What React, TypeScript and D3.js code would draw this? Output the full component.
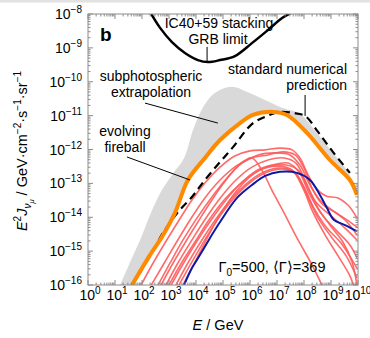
import React from 'react';
import * as d3 from 'd3';

// all series as [log10(E / GeV), log10(E^2 J / GeV cm^-2 s^-1 sr^-1)]
const xDecades = d3.range(0, 11);
const yDecades = d3.range(-16, -7);

const icStackingLimit = [
  [2.30, -7.94], [2.67, -8.41], [3.11, -8.83], [3.59, -9.15], [4.07, -9.36], [4.44, -9.42],
  [4.89, -9.36], [5.44, -9.24], [6.07, -8.86], [6.67, -8.47], [7.19, -8.12], [7.59, -7.94],
];

const standardPrediction = [
  [1.63, -16.0], [2.30, -15.14], [2.78, -14.46], [3.33, -13.85], [3.85, -13.40], [4.33, -12.90],
  [4.89, -12.37], [5.37, -11.93], [6.07, -11.25], [6.63, -11.01], [7.11, -10.89], [7.59, -10.92],
  [8.04, -11.01], [8.52, -11.48], [9.07, -12.07], [9.70, -12.69],
];

const evolvingFireball = [
  [1.63, -16.0], [2.30, -15.11], [2.74, -14.58], [3.22, -13.87], [3.70, -12.90], [4.33, -12.25],
  [4.89, -11.72], [5.63, -11.22], [6.11, -10.98], [6.85, -10.89], [7.37, -10.98], [8.11, -11.51],
  [8.96, -12.31], [9.70, -12.90], [9.96, -13.34],
];

// upper edge of the grey band, the lower edge is the evolving fireball curve
const subphotosphericUpper = [
  [1.19, -16.0], [1.56, -15.32], [1.93, -14.67], [2.30, -13.93], [2.70, -13.25], [3.11, -12.75],
  [3.56, -12.25], [3.89, -11.42], [4.26, -10.75], [4.70, -10.33], [5.33, -10.15], [5.81, -10.27],
  [6.56, -10.54], [7.19, -10.77], [7.85, -10.95], [8.48, -11.51], [9.07, -12.10], [9.59, -12.61],
  [9.96, -13.20],
];

const meanShell = [
  [3.56, -16.0], [3.85, -15.50], [4.15, -15.11], [4.52, -14.61], [4.89, -14.14], [5.52, -13.43],
  [6.07, -13.05], [6.56, -12.78], [7.11, -12.66], [7.74, -12.69], [8.22, -12.90], [8.59, -13.34],
  [8.85, -13.73], [9.11, -14.08], [9.52, -14.23], [9.96, -14.41],
];

const shellRuns = [
  [[1.93, -16.06], [2.37, -15.41], [2.85, -14.76], [3.33, -14.14], [3.85, -13.49], [4.33, -12.99], [4.89, -12.52], [5.44, -12.19], [6.00, -12.04], [6.56, -12.01], [7.11, -11.96], [7.56, -12.01], [7.85, -12.25], [8.15, -12.75], [8.44, -13.14], [8.81, -13.37], [9.26, -13.43], [9.63, -13.64], [9.96, -14.02]],
  [[2.56, -16.06], [3.04, -15.35], [3.52, -14.67], [4.04, -14.02], [4.59, -13.40], [5.15, -12.84], [5.70, -12.40], [6.30, -12.16], [6.93, -12.10], [7.48, -12.16], [7.85, -12.46], [8.22, -13.05], [8.59, -13.49], [9.04, -13.79], [9.52, -14.08], [9.96, -14.52]],
  [[2.85, -16.06], [3.33, -15.35], [3.85, -14.67], [4.37, -14.02], [4.93, -13.40], [5.48, -12.90], [6.07, -12.52], [6.67, -12.31], [7.26, -12.25], [7.70, -12.40], [8.07, -12.96], [8.44, -13.55], [8.96, -13.93], [9.52, -14.32], [9.96, -14.67]],
  [[3.04, -16.06], [3.52, -15.38], [4.04, -14.70], [4.56, -14.08], [5.11, -13.49], [5.67, -12.99], [6.22, -12.63], [6.81, -12.46], [7.41, -12.40], [7.81, -12.66], [8.22, -13.34], [8.67, -13.93], [9.19, -14.38], [9.70, -14.82], [9.96, -15.20]],
  [[3.22, -16.06], [3.70, -15.35], [4.22, -14.67], [4.74, -14.05], [5.30, -13.46], [5.85, -13.02], [6.44, -12.69], [7.04, -12.55], [7.56, -12.61], [7.96, -13.05], [8.37, -13.73], [8.85, -14.32], [9.37, -14.76], [9.96, -15.50]],
  [[3.33, -16.06], [3.85, -15.32], [4.37, -14.61], [4.89, -13.96], [5.48, -13.37], [6.07, -12.93], [6.67, -12.66], [7.26, -12.58], [7.74, -12.75], [8.11, -13.34], [8.52, -14.02], [9.04, -14.61], [9.56, -15.14], [9.96, -15.79]],
  [[2.67, -16.06], [3.11, -15.41], [3.59, -14.76], [4.07, -14.14], [4.59, -13.49], [5.11, -12.90], [5.63, -12.43], [6.07, -12.25], [6.44, -12.61], [6.81, -13.20], [7.26, -13.87], [7.78, -14.67], [8.30, -15.41], [8.70, -16.06]],
  [[3.48, -16.06], [4.15, -15.03], [4.78, -14.08], [5.52, -13.20], [6.30, -12.63], [7.04, -12.49], [7.56, -12.61], [7.96, -13.14], [8.33, -13.85], [8.78, -14.52], [9.26, -15.14], [9.70, -15.73], [9.85, -16.06]],
  [[2.30, -16.06], [2.78, -15.41], [3.26, -14.76], [3.78, -14.08], [4.33, -13.43], [4.89, -12.90], [5.48, -12.49], [6.07, -12.25], [6.67, -12.16], [7.22, -12.07], [7.67, -12.16], [8.00, -12.55], [8.30, -13.14], [8.67, -13.61], [9.15, -13.85], [9.59, -14.08], [9.96, -14.29]],
  [[2.96, -16.06], [3.44, -15.38], [3.96, -14.73], [4.48, -14.08], [5.04, -13.49], [5.63, -13.02], [6.19, -12.69], [6.74, -12.49], [7.33, -12.46], [7.78, -12.61], [8.15, -13.14], [8.52, -13.73], [8.96, -14.23], [9.44, -14.73], [9.78, -15.32], [9.96, -16.00]],
];

// leader lines from the labels to their curves
const leaders = [
  [[4.41, -8.97], [4.41, -9.42]],
  [[8.04, -10.39], [8.04, -11.01]],
  [[2.11, -10.63], [4.81, -11.22]],
  [[1.44, -12.22], [3.78, -12.90]],
];

const font = '"Liberation Sans", Arial, Helvetica, sans-serif';

type Seg = { t: string; shift?: number; size?: number; italic?: boolean };

function Rich({ segs, fs, ...rest }: { segs: Seg[]; fs: number; [k: string]: any }) {
  let prev = 0;
  return (
    <text fontSize={fs} fontFamily={font} {...rest}>
      {segs.map((s, i) => {
        const shift = s.shift || 0;
        const dy = shift - prev;
        prev = shift;
        return (
          <tspan key={i} dy={dy} fontSize={s.size || fs} fontStyle={s.italic ? 'italic' : undefined}>
            {s.t}
          </tspan>
        );
      })}
    </text>
  );
}

export default function App() {
  const width = 370;
  const height = 338;
  const plot = { left: 88, right: 358, top: 14, bottom: 285 };

  const x = d3.scaleLog().domain([1, 1e10]).range([plot.left, plot.right]);
  const y = d3.scaleLog().domain([1e-16, 1e-8]).range([plot.bottom, plot.top]);

  const line = d3.line<number[]>()
    .x(d => x(10 ** d[0]))
    .y(d => y(10 ** d[1]))
    .curve(d3.curveCatmullRom.alpha(0.5));
  const straight = d3.line<number[]>()
    .x(d => x(10 ** d[0]))
    .y(d => y(10 ** d[1]));

  const greyBand = line(subphotosphericUpper) + (line(evolvingFireball.slice().reverse()) || '').replace(/^M/, 'L') + 'Z';

  const axisColor = '#8c8c8c';
  const xTicks: { v: number; major: boolean }[] = [];
  xDecades.forEach(k => {
    if (k === 10) { xTicks.push({ v: 10 ** k, major: true }); return; }
    for (let m = 1; m < 10; m++) xTicks.push({ v: m * 10 ** k, major: m === 1 });
  });
  const yTicks: { v: number; major: boolean }[] = [];
  yDecades.forEach(k => {
    if (k === -8) { yTicks.push({ v: 10 ** k, major: true }); return; }
    for (let m = 1; m < 10; m++) yTicks.push({ v: m * 10 ** k, major: m === 1 });
  });

  const fs = 14;
  const sup = 10;

  return (
    <div style={{ position: 'absolute', left: 0, top: 0 }}>
      <svg width={width} height={height} style={{ display: 'block', background: '#fff' }}>
        <rect x={0} y={0} width={width} height={2.5} fill="#e2e2e2" />
        <defs>
          <clipPath id="plotClip">
            <rect x={plot.left} y={plot.top} width={plot.right - plot.left} height={plot.bottom - plot.top} />
          </clipPath>
        </defs>

        <g clipPath="url(#plotClip)">
          <path d={greyBand} fill="#d9d9d9" stroke="none" />
          {shellRuns.map((run, i) => (
            <path key={i} d={line(run) || ''} fill="none" stroke="#ff5a5a" strokeOpacity={0.9} strokeWidth={1.6} />
          ))}
          <path d={line(meanShell) || ''} fill="none" stroke="#0d1aa6" strokeWidth={2} />
          <path d={line(standardPrediction) || ''} fill="none" stroke="#000" strokeWidth={2.2} strokeDasharray="8,5" />
          <path d={line(evolvingFireball) || ''} fill="none" stroke="#ff8a00" strokeWidth={4} />
          <path d={line(icStackingLimit) || ''} fill="none" stroke="#000" strokeWidth={2.5} />
          {leaders.map((l, i) => (
            <path key={i} d={straight(l) || ''} fill="none" stroke="#000" strokeWidth={1} />
          ))}
        </g>

        {/* frame and inward ticks */}
        <rect x={plot.left} y={plot.top} width={plot.right - plot.left} height={plot.bottom - plot.top}
          fill="none" stroke={axisColor} strokeWidth={1} />
        {xTicks.map((t, i) => {
          const len = t.major ? 5 : 2.5;
          const px = x(t.v);
          return (
            <g key={'x' + i} stroke={axisColor} strokeWidth={1}>
              <line x1={px} x2={px} y1={plot.bottom} y2={plot.bottom - len} />
              <line x1={px} x2={px} y1={plot.top} y2={plot.top + len} />
            </g>
          );
        })}
        {yTicks.map((t, i) => {
          const len = t.major ? 5 : 2.5;
          const py = y(t.v);
          return (
            <g key={'y' + i} stroke={axisColor} strokeWidth={1}>
              <line x1={plot.left} x2={plot.left + len} y1={py} y2={py} />
              <line x1={plot.right} x2={plot.right - len} y1={py} y2={py} />
            </g>
          );
        })}

        {/* tick labels */}
        {xDecades.map(k => (
          <Rich key={'xl' + k} fs={fs} x={x(10 ** k) + (k === 10 ? 0 : 2)} y={300} textAnchor="middle"
            segs={[{ t: '10' }, { t: String(k), shift: -6, size: sup }]} />
        ))}
        {yDecades.map(k => (
          <Rich key={'yl' + k} fs={fs} x={82} y={y(10 ** k) + 5} textAnchor="end"
            segs={[{ t: '10' }, { t: '\u2212' + String(-k), shift: -6, size: sup }]} />
        ))}

        {/* axis titles */}
        <Rich fs={14.5} x={218} y={330} textAnchor="middle"
          segs={[{ t: 'E', italic: true }, { t: ' / GeV' }]} />
        <Rich fs={14.5} textAnchor="middle" transform="translate(27,151) rotate(-90)"
          segs={[
            { t: 'E', italic: true }, { t: '2', shift: -6, size: 10 },
            { t: 'J', italic: true }, { t: '\u03bd', shift: 4, size: 10, italic: true },
            { t: '\u03bc', shift: 6.5, size: 7.5, italic: true },
            { t: ' / GeV\u00b7cm' }, { t: '\u22122', shift: -6, size: 10 },
            { t: '\u00b7s' }, { t: '\u22121', shift: -6, size: 10 },
            { t: '\u00b7sr' }, { t: '\u22121', shift: -6, size: 10 },
          ]} />

        {/* annotations */}
        <text x={100} y={41} fontFamily={font} fontSize={19} fontWeight="bold">b</text>
        <g fontFamily={font} fontSize={14} fill="#000">
          <text x={219} y={28} textAnchor="middle">IC40+59 stacking</text>
          <text x={218} y={44} textAnchor="middle">GRB limit</text>
          <text x={347} y={74} textAnchor="end">standard numerical</text>
          <text x={347} y={90} textAnchor="end">prediction</text>
          <text x={151} y={81} textAnchor="middle">subphotospheric</text>
          <text x={151} y={97} textAnchor="middle">extrapolation</text>
          <text x={125} y={136} textAnchor="middle">evolving</text>
          <text x={125} y={152} textAnchor="middle">fireball</text>
        </g>
        <Rich fs={14.5} x={272} y={272} textAnchor="middle"
          segs={[
            { t: '\u0393' }, { t: '0', shift: 3.5, size: 10 },
            { t: '=500, \u27e8\u0393\u27e9=369' },
          ]} />
      </svg>
    </div>
  );
}
